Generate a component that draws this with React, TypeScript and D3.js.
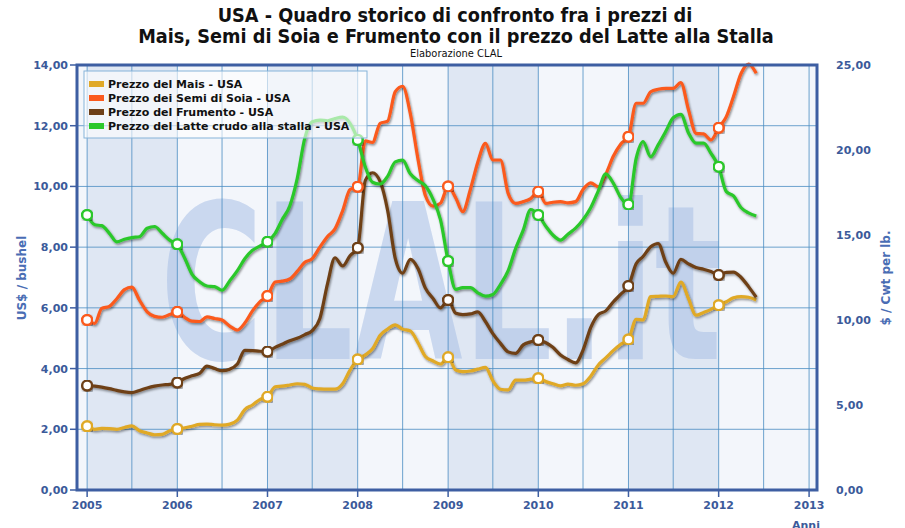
import React, { useEffect, useRef } from "react";
import * as d3 from "d3";

// monthly prices, Jan 2005 .. Jun 2012
const months = d3.timeMonth.range(new Date(2005, 0, 1), new Date(2012, 6, 1));

// US$ / bushel
const mais = [
  2.1, 2.0, 2.03, 2.02, 2.0, 2.06, 2.11, 1.95, 1.88, 1.82, 1.83, 1.95,
  2.01, 2.05, 2.1, 2.16, 2.17, 2.15, 2.14, 2.17, 2.3, 2.65, 2.8, 2.98,
  3.07, 3.4, 3.42, 3.46, 3.5, 3.48, 3.36, 3.33, 3.32, 3.32, 3.5, 3.95,
  4.3, 4.45, 4.65, 5.1, 5.3, 5.44, 5.3, 5.24, 4.85, 4.4, 4.25, 4.15,
  4.37, 3.95, 3.9, 3.92, 3.98, 4.04, 3.6, 3.32, 3.3, 3.62, 3.62, 3.65,
  3.68, 3.57, 3.5, 3.43, 3.49, 3.45, 3.5, 3.75, 4.12, 4.35, 4.6, 4.8,
  4.96, 5.62, 5.6, 6.37, 6.38, 6.39, 6.37, 6.85, 6.3, 5.76, 5.85, 5.95,
  6.09, 6.2, 6.33, 6.37, 6.35, 6.26,
];
const soia = [
  5.6, 5.49, 5.98, 6.05, 6.3, 6.6, 6.68, 6.25, 5.87, 5.72, 5.69, 5.78,
  5.87, 5.68, 5.56, 5.55, 5.7, 5.65, 5.6, 5.4, 5.27, 5.5, 5.9, 6.2,
  6.39, 6.85, 6.88, 6.95, 7.2, 7.5, 7.62, 8.0, 8.35, 8.6, 9.2, 9.9,
  9.99, 11.5, 11.45, 12.08, 12.15, 13.12, 13.3, 12.4, 10.9, 9.7, 9.35, 9.45,
  10.0, 9.62, 9.17, 9.9, 10.8, 11.42, 10.87, 10.87, 9.77, 9.44, 9.5, 9.6,
  9.83, 9.44, 9.48, 9.5, 9.46, 9.5, 9.9, 10.12, 9.99, 10.4, 11.0, 11.4,
  11.64, 12.74, 12.74, 13.12, 13.2, 13.23, 13.23, 13.42, 12.52, 11.75, 11.73, 11.53,
  11.93, 12.3, 12.96, 13.73, 14.03, 13.73,
];
const frumento = [
  3.44, 3.42, 3.39, 3.34, 3.28, 3.23, 3.21, 3.28, 3.36, 3.42, 3.46, 3.48,
  3.54, 3.68, 3.76, 3.84, 4.08, 4.0, 3.93, 3.98, 4.15, 4.6, 4.59, 4.57,
  4.56, 4.7, 4.8, 4.92, 5.0, 5.12, 5.25, 5.65, 6.8, 7.65, 7.38, 7.72,
  7.98, 10.2, 10.45, 10.16, 9.22, 7.63, 7.14, 7.6, 7.3, 6.65, 6.31, 6.0,
  6.26, 5.82, 5.78, 5.8, 5.87, 5.55, 5.15, 4.83, 4.55, 4.5, 4.78, 4.88,
  4.94, 4.85, 4.7, 4.45, 4.3, 4.19, 4.61, 5.35, 5.78, 5.9, 6.2, 6.45,
  6.72, 7.45, 7.69, 8.01, 8.12, 7.5, 7.14, 7.6, 7.45, 7.33, 7.27, 7.2,
  7.08, 7.17, 7.18, 7.0, 6.7, 6.35,
];
// $ / Cwt (right axis)
const latte = [
  16.18, 15.6, 15.55, 15.1, 14.6, 14.75, 14.85, 14.9, 15.4, 15.5, 15.1, 14.7,
  14.45, 13.6, 12.7, 12.25, 12.0, 11.96, 11.75, 12.3, 12.9, 13.6, 14.1, 14.35,
  14.61, 15.1, 15.9, 16.7, 18.3, 20.7, 21.66, 21.76, 21.72, 21.85, 21.93, 21.57,
  20.59, 19.0, 18.1, 18.0, 18.45, 19.3, 19.4, 18.6, 18.2, 17.9, 17.1, 15.9,
  13.47, 11.8, 11.9, 11.9, 11.6, 11.4, 11.5, 12.1, 12.9, 14.2, 15.29, 16.5,
  16.18, 15.5, 15.0, 14.7, 15.05, 15.4, 15.9, 16.6, 17.6, 18.6, 18.04, 17.2,
  16.8, 19.5, 20.49, 19.6, 20.3, 21.1, 21.9, 22.1, 21.0, 20.4, 20.4, 19.8,
  19.02, 17.55, 17.3, 16.6, 16.3, 16.12,
];

const seriesNames = [
  "Prezzo del Mais - USA",
  "Prezzo dei Semi di Soia - USA",
  "Prezzo del Frumento - USA",
  "Prezzo del Latte crudo alla stalla - USA",
];
const seriesColors = ["#e0a928", "#fb5a1e", "#6e4018", "#2cc82c"];
const seriesValues = [mais, soia, frumento, latte];
const seriesRight = [false, false, false, true];

const leftTicks = [0, 2, 4, 6, 8, 10, 12, 14];
const rightTicks = [0, 5, 10, 15, 20, 25];
const years = [2005, 2006, 2007, 2008, 2009, 2010, 2011, 2012, 2013];
const shadedYears = [2005, 2007, 2009, 2011];

const App = () => {
  const ref = useRef<SVGSVGElement>(null);

  useEffect(() => {
    const svg = d3.select(ref.current);
    svg.selectAll("*").remove();

    const left = 77, right = 817, top = 65, bottom = 490;
    const axisColor = "#3b5a9a";
    const fmt = (d: number) => d3.format(".2f")(d).replace(".", ",");

    const x = d3
      .scaleTime()
      .domain([new Date(2004, 10, 21), new Date(2013, 1, 2)])
      .range([left, right]);
    const yL = d3.scaleLinear().domain([0, 14]).range([bottom, top]);
    const yR = d3.scaleLinear().domain([0, 25]).range([bottom, top]);

    const defs = svg.append("defs");
    const f = defs.append("filter").attr("id", "shadow").attr("x", "-5%").attr("y", "-5%").attr("width", "110%").attr("height", "110%");
    f.append("feDropShadow")
      .attr("dx", 1)
      .attr("dy", 1.5)
      .attr("stdDeviation", 1)
      .attr("flood-color", "#000")
      .attr("flood-opacity", 0.45);
    defs
      .append("clipPath")
      .attr("id", "wmclip")
      .append("rect")
      .attr("x", 150)
      .attr("y", 188)
      .attr("width", 585)
      .attr("height", 178);

    // background + year bands
    svg.append("rect").attr("x", left).attr("y", top).attr("width", right - left).attr("height", bottom - top).attr("fill", "#f3f6fb");
    svg
      .selectAll(".band")
      .data(shadedYears)
      .enter()
      .append("rect")
      .attr("x", (d) => x(new Date(d, 0, 1)))
      .attr("y", top)
      .attr("width", (d) => x(new Date(d + 1, 0, 1)) - x(new Date(d, 0, 1)))
      .attr("height", bottom - top)
      .attr("fill", "#dfe7f3");

    // watermark, stretched into its box
    const wg = svg.append("g").attr("clip-path", "url(#wmclip)");
    const wt = wg
      .append("text")
      .attr("font-family", "DejaVu Sans")
      .attr("font-weight", "bold")
      .attr("font-size", 100)
      .attr("fill", "#a9c0e6")
      .attr("opacity", 0.55)
      .text("CLAL.it");
    const bb = (wt.node() as SVGTextElement).getBBox();
    const glyphTop = bb.y + 0.144 * bb.height;
    const glyphBot = bb.y + 0.797 * bb.height;
    const sx = (722 - 160) / bb.width;
    const sy = (360 - 195) / (glyphBot - glyphTop);
    wt.attr("transform", `translate(${160 - bb.x * sx},${195 - glyphTop * sy}) scale(${sx},${sy})`);

    // grid
    const halfYears = d3.timeMonth.every(6)!.range(new Date(2005, 0, 1), new Date(2013, 0, 2));
    svg
      .selectAll(".vgrid")
      .data(halfYears)
      .enter()
      .append("line")
      .attr("x1", (d) => x(d))
      .attr("x2", (d) => x(d))
      .attr("y1", top)
      .attr("y2", bottom)
      .attr("stroke", "#4a8cc2")
      .attr("stroke-opacity", 0.8);
    svg
      .selectAll(".hgrid")
      .data(leftTicks.slice(1, -1))
      .enter()
      .append("line")
      .attr("x1", left)
      .attr("x2", right)
      .attr("y1", (d) => yL(d))
      .attr("y2", (d) => yL(d))
      .attr("stroke", "#4a8cc2")
      .attr("stroke-opacity", 0.8);

    // series
    seriesValues.forEach((vals, i) => {
      const y = seriesRight[i] ? yR : yL;
      const line = d3
        .line<number>()
        .x((_, j) => x(months[j]))
        .y((d) => y(d))
        .curve(d3.curveMonotoneX);
      svg
        .append("path")
        .datum(vals)
        .attr("d", line)
        .attr("fill", "none")
        .attr("stroke", seriesColors[i])
        .attr("stroke-width", 3.2)
        .attr("stroke-linejoin", "round")
        .attr("filter", "url(#shadow)");
    });
    seriesValues.forEach((vals, i) => {
      const y = seriesRight[i] ? yR : yL;
      const jan = vals.map((v, j) => ({ v, d: months[j] })).filter((p) => p.d.getMonth() === 0);
      svg
        .append("g")
        .selectAll("circle")
        .data(jan)
        .enter()
        .append("circle")
        .attr("cx", (p) => x(p.d))
        .attr("cy", (p) => y(p.v))
        .attr("r", 5)
        .attr("fill", "#fff")
        .attr("stroke", seriesColors[i])
        .attr("stroke-width", 2.5)
        .attr("filter", "url(#shadow)");
    });

    // legend
    const lg = svg.append("g");
    lg.append("rect")
      .attr("x", 84)
      .attr("y", 71)
      .attr("width", 283)
      .attr("height", 67)
      .attr("fill", "#fff")
      .attr("fill-opacity", 0.6)
      .attr("stroke", "#86b3d9");
    seriesNames.forEach((name, i) => {
      const cy = 84 + i * 14;
      lg.append("rect").attr("x", 89).attr("y", cy - 3).attr("width", 15).attr("height", 6).attr("fill", seriesColors[i]);
      lg.append("text")
        .attr("x", 108)
        .attr("y", cy + 4)
        .attr("font-family", "DejaVu Sans")
        .attr("font-weight", "bold")
        .attr("font-size", 11)
        .attr("fill", "#111")
        .text(name);
    });

    // frame
    svg
      .append("rect")
      .attr("x", left)
      .attr("y", top)
      .attr("width", right - left)
      .attr("height", bottom - top)
      .attr("fill", "none")
      .attr("stroke", "#3d5ea2")
      .attr("stroke-width", 3);

    // axes
    const la = svg.append("g").attr("font-family", "DejaVu Sans").attr("font-weight", "bold").attr("font-size", 11).attr("fill", axisColor);
    leftTicks.forEach((t) => {
      la.append("line").attr("x1", 70).attr("x2", left).attr("y1", yL(t)).attr("y2", yL(t)).attr("stroke", "#3d5ea2").attr("stroke-width", 1.5);
      la.append("text").attr("x", 68).attr("y", yL(t) + 4).attr("text-anchor", "end").text(fmt(t));
    });
    rightTicks.forEach((t) => {
      la.append("text").attr("x", 836).attr("y", yR(t) + 4).text(fmt(t));
    });
    years.forEach((yr) => {
      const xx = x(new Date(yr, 0, 1));
      la.append("line").attr("x1", xx).attr("x2", xx).attr("y1", bottom).attr("y2", bottom + 7).attr("stroke", "#3d5ea2").attr("stroke-width", 1.5);
      la.append("text").attr("x", xx).attr("y", 509).attr("text-anchor", "middle").text(yr);
    });
    la.append("text").attr("x", 806).attr("y", 529).attr("text-anchor", "middle").text("Anni");

    const at = svg.append("g").attr("font-family", "DejaVu Sans").attr("font-weight", "bold").attr("font-size", 12).attr("fill", "#4a6db4");
    at.append("text").attr("transform", "translate(26,278) rotate(-90)").attr("text-anchor", "middle").text("US$ / bushel");
    at.append("text").attr("transform", "translate(890,278) rotate(-90)").attr("text-anchor", "middle").text("$ / Cwt per lb.");

    // titles
    const tt = svg.append("g").attr("font-family", "'Liberation Sans Narrow', 'DejaVu Sans Condensed', 'Liberation Sans'").attr("text-anchor", "middle").attr("fill", "#111");
    tt.append("text").attr("x", 455).attr("y", 22).attr("font-weight", "bold").attr("font-size", 19.7).text("USA - Quadro storico di confronto fra i prezzi di");
    tt.append("text").attr("x", 456).attr("y", 43).attr("font-weight", "bold").attr("font-size", 19.7).text("Mais, Semi di Soia e Frumento con il prezzo del Latte alla Stalla");
    tt.append("text").attr("x", 456).attr("y", 57).attr("font-size", 11).text("Elaborazione CLAL");
  }, []);

  return (
    <svg
      ref={ref}
      width={905}
      height={528}
      style={{ position: "absolute", left: 0, top: 0, background: "#fff" }}
    />
  );
};

export default App;
